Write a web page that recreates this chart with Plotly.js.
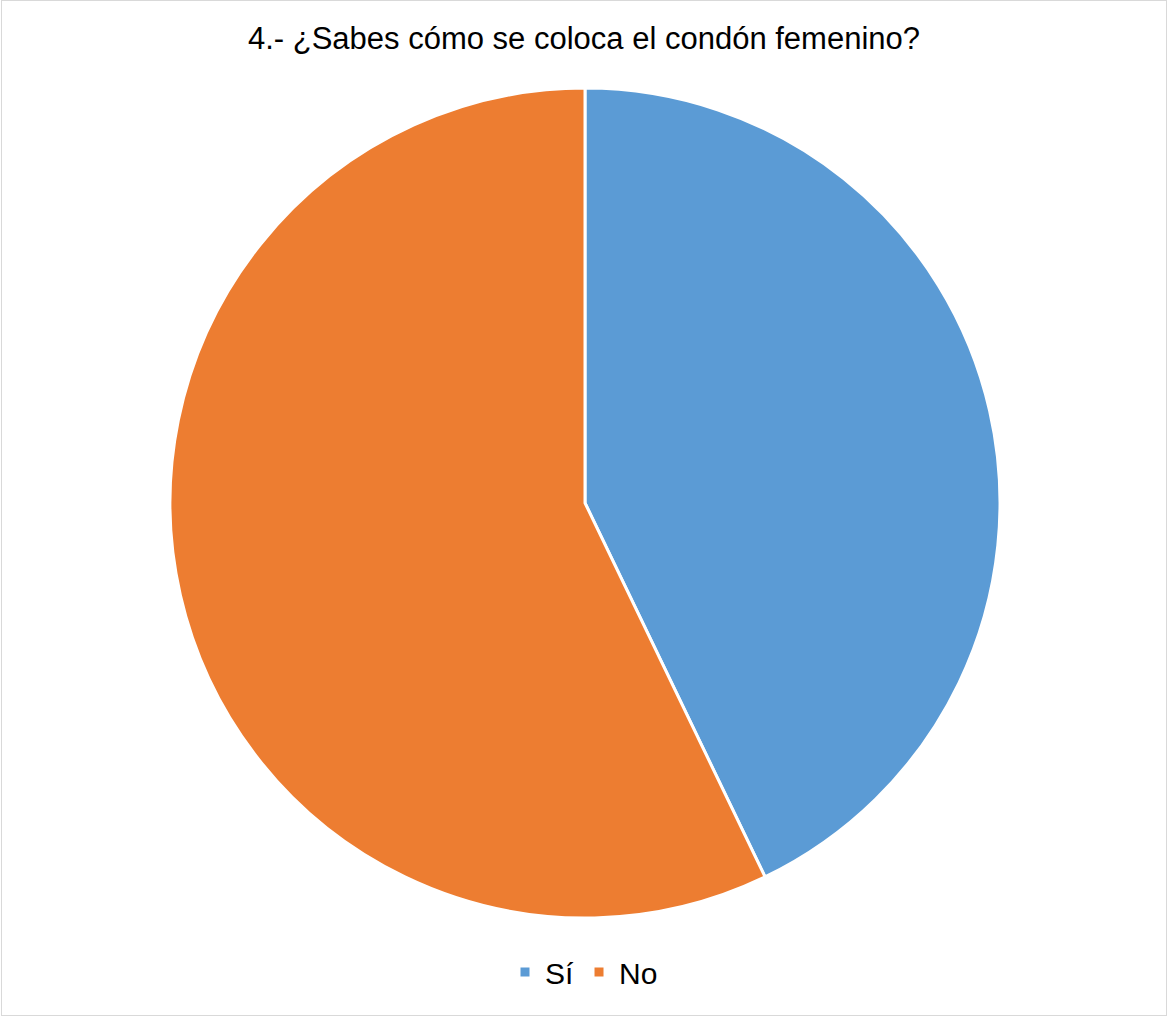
<!DOCTYPE html>
<html>
<head>
<meta charset="utf-8">
<script src="https://cdn.plot.ly/plotly-3.0.1.min.js"></script>
<style>
  html, body { margin: 0; padding: 0; background: #fff; }
  #frame { position: absolute; left: 1px; top: 0px; width: 1164px; height: 1014px; border: 1px solid #d9d9d9; }
  #chart { position: absolute; left: 0; top: 0; width: 1168px; height: 1017px; }
</style>
</head>
<body>
<div id="chart"></div>
<div id="frame"></div>
<script>
const categories = ["Sí", "No"];
const values = [15, 20];
const colors = ["#5B9BD5", "#ED7D31"];
const chartTitle = "4.- ¿Sabes cómo se coloca el condón femenino?";

const W = 1168, H = 1017;
const cx = 585, cy = 503, r = 415;

const data = [{
  type: "pie",
  labels: categories,
  values: values,
  sort: false,
  direction: "clockwise",
  rotation: 0,
  textinfo: "none",
  hoverinfo: "label+value+percent",
  marker: { colors: colors, line: { color: "#ffffff", width: 3 } },
  domain: {
    x: [(cx - r) / W, (cx + r) / W],
    y: [(H - cy - r) / H, (H - cy + r) / H]
  },
  showlegend: true
}];

const layout = {
  width: W,
  height: H,
  margin: { l: 0, r: 0, t: 0, b: 0 },
  paper_bgcolor: "#ffffff",
  plot_bgcolor: "#ffffff",
  font: { family: "Liberation Sans, Arial, sans-serif", color: "#000000" },
  title: {
    text: chartTitle,
    font: { size: 31, color: "#000000", family: "Liberation Sans, Arial, sans-serif" },
    x: 0.5, xanchor: "center",
    y: 1 - 38 / H, yanchor: "middle",
    xref: "paper", yref: "container"
  },
  legend: {
    orientation: "h",
    x: 0.5, xanchor: "center",
    y: 1 - 972 / H, yanchor: "middle",
    font: { size: 30, color: "#000000" },
    itemwidth: 30,
    traceorder: "normal"
  }
};

Plotly.newPlot("chart", data, layout, { displayModeBar: false, staticPlot: true });
</script>
</body>
</html>
